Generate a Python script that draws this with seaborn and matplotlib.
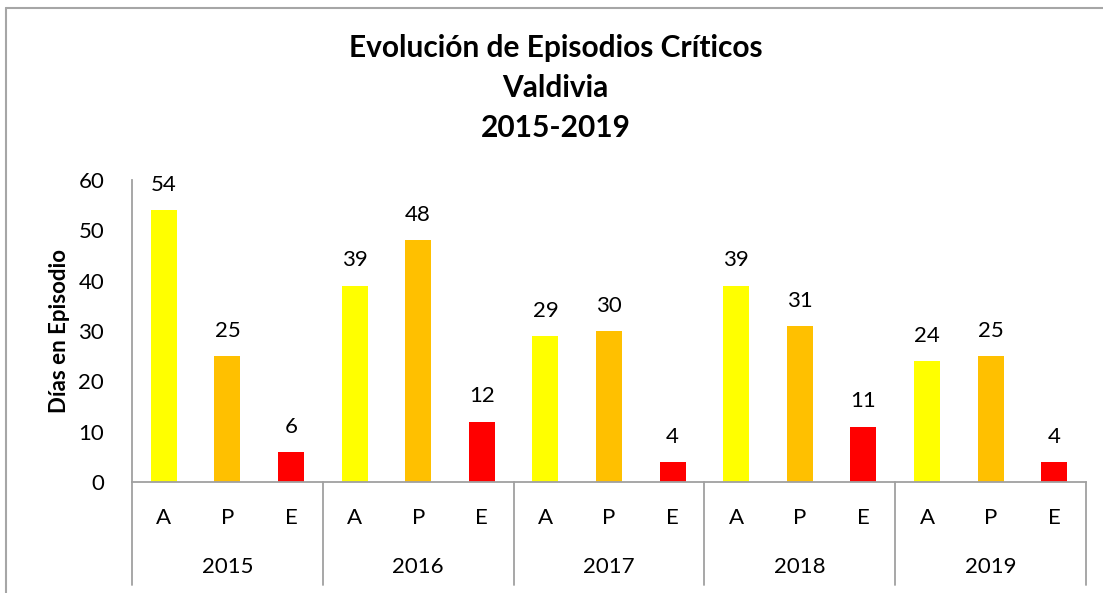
import matplotlib
matplotlib.use("Agg")
import matplotlib.pyplot as plt
import matplotlib.lines as mlines
import seaborn as sns
import pandas as pd
import numpy as np

years = ["2015", "2016", "2017", "2018", "2019"]
levels = ["A", "P", "E"]
values_A = [54, 39, 29, 39, 24]
values_P = [25, 48, 30, 31, 25]
values_E = [6, 12, 4, 11, 4]
level_colors = {"A": "#FFFF00", "P": "#FFC000", "E": "#FF0000"}

title_text = "Evolución de Episodios Críticos\nValdivia\n2015-2019"
ylabel_text = "Días en Episodio"

rows = []
for i, y in enumerate(years):
    for lv, vals in zip(levels, [values_A, values_P, values_E]):
        rows.append({"key": f"{y}-{lv}", "year": y, "level": lv, "value": vals[i]})
df = pd.DataFrame(rows)

sns.set_style("white")
plt.rcParams["font.family"] = ["Lato", "DejaVu Sans"]
plt.rcParams["text.color"] = "black"
plt.rcParams["axes.labelcolor"] = "black"
plt.rcParams["xtick.color"] = "black"
plt.rcParams["ytick.color"] = "black"

W, H = 1103, 593
fig = plt.figure(figsize=(W / 100, H / 100), dpi=100)
ax_left, ax_right, ax_top, ax_bottom = 132, 1086, 180, 482
ax = fig.add_axes([ax_left / W, 1 - ax_bottom / H, (ax_right - ax_left) / W, (ax_bottom - ax_top) / H])

palette = [level_colors[lv] for lv in df["level"]]
sns.barplot(data=df, x="key", y="value", hue="key", palette=palette, legend=False,
            width=0.41, saturation=1, ax=ax, linewidth=0)

ax.set_ylim(0, 60)
ax.set_xlim(-0.5, len(df) - 0.5)
ax.set_yticks(np.arange(0, 61, 10))
ax.tick_params(axis="y", length=0, pad=20, labelsize=16, labelcolor="black")
ax.set_xticks(range(len(df)))
ax.set_xticklabels(df["level"], fontsize=16)
ax.tick_params(axis="x", length=0, pad=19, labelcolor="black")
ax.set_xlabel("")
ax.set_ylabel(ylabel_text, fontsize=16, fontweight="bold", labelpad=6, color="black")

axis_color = "#A0A0A0"
for s in ["top", "right"]:
    ax.spines[s].set_visible(False)
for s in ["left", "bottom"]:
    ax.spines[s].set_color(axis_color)
    ax.spines[s].set_linewidth(1.3)

# data labels
for p, v in zip(ax.patches, df["value"]):
    ax.annotate(f"{v}", (p.get_x() + p.get_width() / 2, p.get_height()),
                xytext=(0, 11), textcoords="offset points", ha="center", va="bottom",
                fontsize=16, color="black")

# multi-level axis separators and year labels
axh = ax_bottom - ax_top
sep_bottom = -(585 - ax_bottom) / axh
trans = ax.get_xaxis_transform()
for k in range(len(years) + 1):
    xpos = k * 3 - 0.5
    ax.plot([xpos, xpos], [0, sep_bottom], color=axis_color, lw=1.3, transform=trans, clip_on=False)
for k, y in enumerate(years):
    ax.text(k * 3 + 1, -(567 - ax_bottom) / axh, y, transform=trans, ha="center", va="center",
            fontsize=16, color="black")

# title
fig.text(0.5035, 1 - 88 / H, title_text, ha="center", va="center", fontsize=21.5,
         fontweight="bold", linespacing=1.5, color="black")

# chart area border (top and left visible)
fig.add_artist(mlines.Line2D([6 / W, 1], [1 - 8 / H, 1 - 8 / H], color="#A6A6A6", lw=1.5, transform=fig.transFigure))
fig.add_artist(mlines.Line2D([6 / W, 6 / W], [0, 1 - 8 / H], color="#A6A6A6", lw=1.5, transform=fig.transFigure))

fig.savefig("out.png", dpi=100)
